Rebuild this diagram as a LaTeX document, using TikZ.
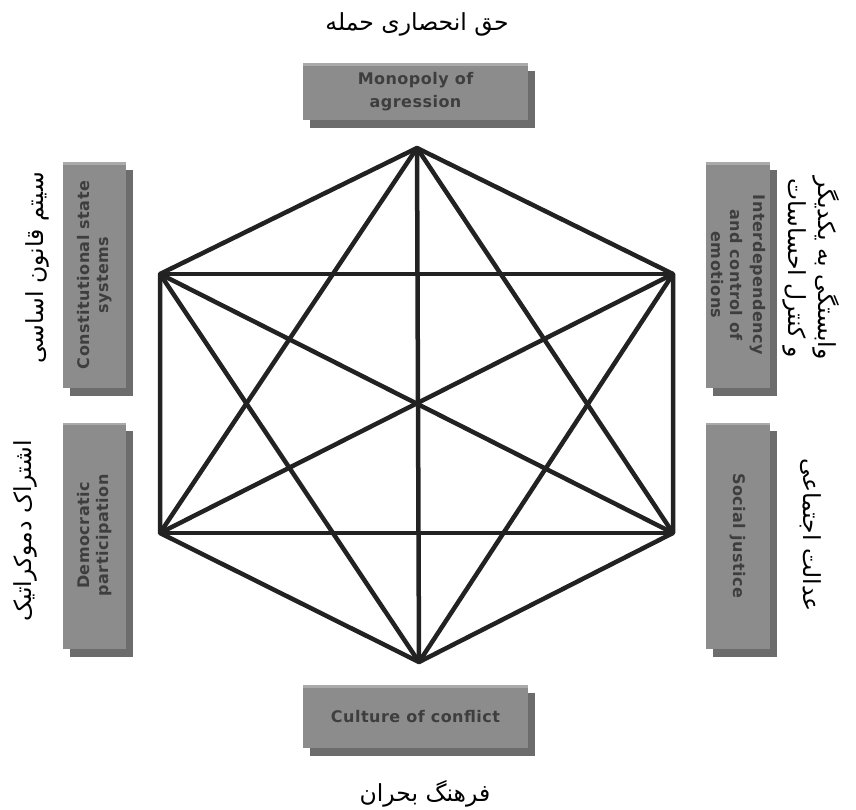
\documentclass[tikz,border=0pt]{standalone}
\usepackage{fontspec}
\usetikzlibrary{shadows}
\TeXXeTstate=1
\newfontfamily\farsi[Script=Arabic]{DejaVu Sans}
\newfontfamily\boxfont[LetterSpace=3]{DejaVu Sans}
\definecolor{boxgray}{RGB}{140,140,140}
\definecolor{boxhi}{RGB}{170,170,170}
\definecolor{shadowgray}{RGB}{108,108,108}
\definecolor{boxtext}{RGB}{62,62,62}
\definecolor{linkgray}{RGB}{34,34,34}
\begin{document}
\begin{tikzpicture}[x=1pt,y=-1pt,
  box/.style={fill=boxgray, inner sep=0pt, text=boxtext,
    font=\boxfont\bfseries\fontsize{16}{21}\selectfont,
    drop shadow={shadow xshift=7pt, shadow yshift=-8pt, fill=shadowgray, opacity=1},
    path picture={\fill[boxhi] (path picture bounding box.north west) rectangle ([yshift=-2.5pt]path picture bounding box.north east);}},
  fa/.style={font=\farsi\fontsize{23.5}{30}\selectfont, inner sep=0pt},
  link/.style={draw=linkgray, line width=4.5pt, line join=round}]
\useasboundingbox (0,0) rectangle (856,809);

\coordinate (t) at (417,148);
\coordinate (ul) at (160,274);
\coordinate (ur) at (673,274);
\coordinate (ll) at (160,533);
\coordinate (lr) at (673,533);
\coordinate (b) at (419,662);

% hexagon and all diagonals
\draw[link] (t) -- (ul) -- (ll) -- (b) -- (lr) -- (ur) -- cycle;
\draw[link] (ul) -- (ur);
\draw[link] (ll) -- (lr);
\draw[link] (t) -- (b);
\draw[link] (t) -- (ll);
\draw[link] (t) -- (lr);
\draw[link] (b) -- (ul);
\draw[link] (b) -- (ur);
\draw[link] (ul) -- (lr);
\draw[link] (ur) -- (ll);

\node[box, minimum width=225pt, minimum height=57pt] (mono) at (415.5,91.5) {\shortstack{Monopoly of\\[4pt]agression}};
\node[box, minimum width=225pt, minimum height=63pt] (cult) at (415.5,716.5) {Culture of conflict};
\node[box, minimum width=63pt, minimum height=226pt] (const) at (94.5,275) {\rotatebox{90}{\shortstack{Constitutional state\\[4pt]systems}}};
\node[box, minimum width=63pt, minimum height=226pt] (demo) at (94.5,535.5) {\rotatebox{90}{\shortstack{Democratic\\[4pt]participation}}};
\node[box, minimum width=64pt, minimum height=226pt] (inter) at (738,275) {\rotatebox{-90}{\shortstack{Interdependency\\[4pt]and control of\\[4pt]emotions}}};
\node[box, minimum width=64pt, minimum height=226pt] (just) at (738,535.5) {\rotatebox{-90}{Social justice}};

\node[fa] (monofa) at (417,24) {\beginR حق انحصاری حمله\endR};
\node[fa] (cultfa) at (425,794) {\beginR فرهنگ بحران\endR};
\node[fa, rotate=90] (constfa) at (37,268) {\beginR سیتم قانون اساسی\endR};
\node[fa, rotate=90] (demofa) at (25,531) {\beginR اشتراک دموکراتیک\endR};
\node[fa, rotate=-90, align=center] (interfa) at (811,268) {\beginR وابستگی به یکدیگر\endR\\\beginR و کنترل احساسات\endR};
\node[fa, rotate=-90] (justfa) at (811,535) {\beginR عدالت اجتماعی\endR};
\end{tikzpicture}
\end{document}
